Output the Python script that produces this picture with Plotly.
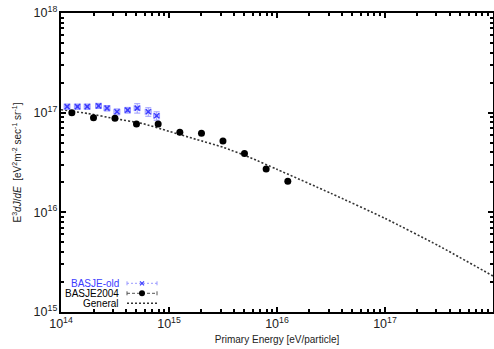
import plotly.graph_objects as go

# ---- data ----
general_E = [1e14, 1.78e14, 3.16e14, 5.62e14, 1e15, 1.78e15, 3.16e15, 5.62e15,
             1e16, 3.16e16, 1e17, 3.16e17, 1e18]
general_F = [1.07e17, 9.8e16, 8.7e16, 7.8e16, 6.5e16, 5.4e16, 4.5e16, 3.55e16,
             2.7e16, 1.55e16, 8.7e15, 4.6e15, 2.3e15]

basje2004_E = [1.26e14, 2.0e14, 3.16e14, 5.0e14, 7.94e14, 1.26e15, 2.0e15,
               3.16e15, 5.0e15, 7.94e15, 1.26e16]
basje2004_F = [1.0e17, 8.9e16, 8.8e16, 7.7e16, 7.7e16, 6.35e16, 6.2e16,
               5.2e16, 3.9e16, 2.72e16, 2.05e16]

basjeold_E = [1.14e14, 1.42e14, 1.75e14, 2.23e14, 2.67e14, 3.3e14, 4.14e14,
              5.08e14, 6.43e14, 7.69e14]
basjeold_F = [1.15e17, 1.15e17, 1.15e17, 1.17e17, 1.11e17, 1.02e17, 1.06e17,
              1.11e17, 1.02e17, 9.3e16]
basjeold_err = [7e15, 7e15, 7e15, 7e15, 7e15, 7e15, 7e15, 1.2e16, 1.0e16, 9e15]
basjeold_xerr = [7e12, 9e12, 1.1e13, 1.4e13, 1.7e13, 2.1e13, 2.6e13, 3.2e13, 4.1e13, 4.9e13]

legend_names = ["BASJE-old", "BASJE2004", "General"]

BLUE = "#3c3cff"
LBLUE = "#9a9aff"
FONT = "Liberation Sans, Arial, sans-serif"

fig = go.Figure()

fig.add_trace(go.Scatter(
    x=general_E, y=general_F, mode="lines", line_shape="spline",
    line=dict(color="#333333", width=1.6, dash="2px,2px", smoothing=0.6),
    name=legend_names[2], showlegend=False, hoverinfo="skip"))

fig.add_trace(go.Scatter(
    x=basjeold_E, y=basjeold_F, mode="markers",
    marker=dict(symbol="x-thin-open", size=5, color=BLUE,
                line=dict(color=BLUE, width=1.5)),
    error_y=dict(type="data", array=basjeold_err, color=LBLUE, thickness=1, width=3),
    error_x=dict(type="data", array=basjeold_xerr, color=LBLUE, thickness=1, width=3),
    name=legend_names[0], showlegend=False, hoverinfo="skip"))

fig.add_trace(go.Scatter(
    x=basje2004_E, y=basje2004_F, mode="markers",
    marker=dict(symbol="circle", size=7, color="black"),
    name=legend_names[1], showlegend=False, hoverinfo="skip"))

axis_common = dict(
    type="log", showgrid=False, zeroline=False,
    showline=True, linecolor="black", linewidth=1.5, mirror="allticks",
    ticks="inside", ticklen=5, tickwidth=1.5, tickcolor="black",
    exponentformat="power", dtick=1,
    tickfont=dict(family=FONT, size=10, color="#222222"),
    minor=dict(ticks="inside", ticklen=3, tickwidth=1.5, tickcolor="black", showgrid=False),
)

fig.update_xaxes(**axis_common, range=[14, 18.0005],
                 title=dict(text="Primary Energy [eV/particle]",
                            font=dict(family=FONT, size=10, color="#222222"), standoff=6))
fig.update_yaxes(**axis_common, range=[15, 18],
                 title=dict(text="E<sup>3</sup><i>dJ</i>/<i>dE</i>  [eV<sup>2</sup>m<sup>-2</sup> sec<sup>-1</sup> sr<sup>-1</sup>]",
                            font=dict(family=FONT, size=10, color="#222222"), standoff=10))

# ---- legend (drawn manually, gnuplot style: text then sample) ----
def px_x(p):
    return (p - 61) / 432.0

def px_y(p):
    return (312 - p) / 299.0

rows = [283.3, 293.3, 303.3]
colors = [BLUE, "black", "black"]
shapes = []
annotations = []
for name, py, c in zip(legend_names, rows, colors):
    annotations.append(dict(xref="paper", yref="paper", x=px_x(121), y=px_y(py),
                            xanchor="right", yanchor="middle", showarrow=False,
                            text=name, font=dict(family=FONT, size=10, color=c)))

# BASJE-old sample
y0 = px_y(rows[0])
shapes.append(dict(type="line", xref="paper", yref="paper", x0=px_x(127), x1=px_x(157),
                   y0=y0, y1=y0, line=dict(color=LBLUE, width=1, dash="2px,2px")))
for xx in (127, 157):
    shapes.append(dict(type="line", xref="paper", yref="paper", xsizemode="pixel",
                       ysizemode="pixel", xanchor=px_x(xx), yanchor=y0,
                       x0=0, x1=0, y0=-2, y1=2, line=dict(color=LBLUE, width=1)))
shapes.append(dict(type="path", xref="paper", yref="paper", xsizemode="pixel",
                   ysizemode="pixel", xanchor=px_x(142), yanchor=y0,
                   path="M-2,-2 L2,2 M-2,2 L2,-2",
                   line=dict(color=BLUE, width=1.2)))
# BASJE2004 sample
y1 = px_y(rows[1])
shapes.append(dict(type="line", xref="paper", yref="paper", x0=px_x(127), x1=px_x(157),
                   y0=y1, y1=y1, line=dict(color="#555555", width=1, dash="3px,2px")))
for xx in (127, 157):
    shapes.append(dict(type="line", xref="paper", yref="paper", xsizemode="pixel",
                       ysizemode="pixel", xanchor=px_x(xx), yanchor=y1,
                       x0=0, x1=0, y0=-2, y1=2, line=dict(color="#555555", width=1)))
shapes.append(dict(type="circle", xref="paper", yref="paper", xsizemode="pixel",
                   ysizemode="pixel", xanchor=px_x(142), yanchor=y1,
                   x0=-3, x1=3, y0=-3, y1=3, fillcolor="black",
                   line=dict(color="black", width=0)))
# General sample
y2 = px_y(rows[2])
shapes.append(dict(type="line", xref="paper", yref="paper", x0=px_x(127), x1=px_x(157),
                   y0=y2, y1=y2, line=dict(color="#333333", width=1.6, dash="2px,2px")))

fig.update_layout(
    width=494, height=349,
    margin=dict(l=61, r=1, t=13, b=37, autoexpand=False),
    paper_bgcolor="white", plot_bgcolor="white",
    showlegend=False,
    shapes=shapes, annotations=annotations,
    font=dict(family=FONT, size=10),
)

fig.write_html("out.html")
